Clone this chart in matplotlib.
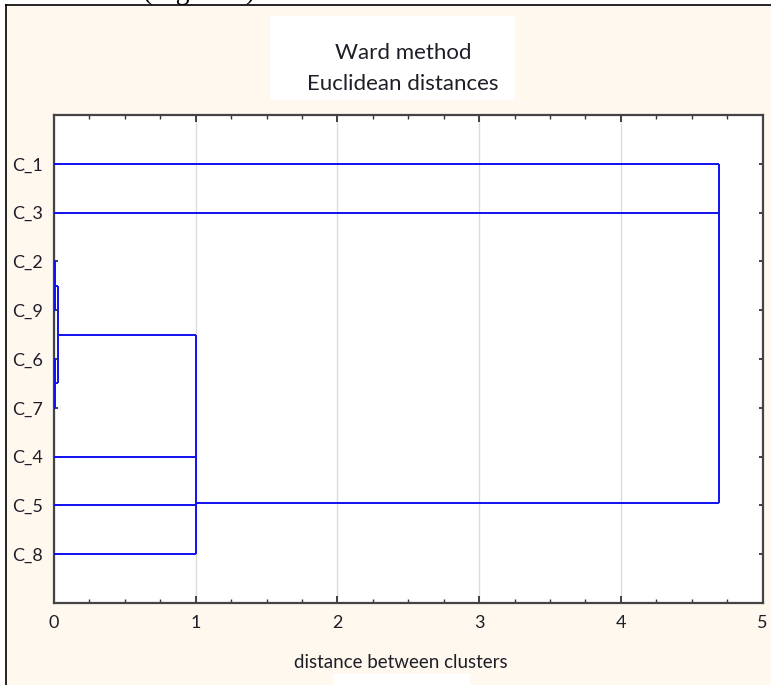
import matplotlib
matplotlib.use("Agg")
import matplotlib.pyplot as plt
from matplotlib.patches import Rectangle
from matplotlib.lines import Line2D
from matplotlib.ticker import MultipleLocator

# ---- data ----
leaf_labels = ['C_1', 'C_3', 'C_2', 'C_9', 'C_6', 'C_7', 'C_4', 'C_5', 'C_8']
# merges: node ids 0..8 are leaves, each merge creates a new node id 9, 10, ...
merge_members = [[2, 3], [4, 5], [9, 10], [11, 6, 7, 8], [0, 1, 12]]
merge_height = [0.010, 0.010, 0.025, 1.00, 4.69]
merge_anchor = [2.5, 4.5, 3.5, 6.95, 3.5]   # position (in leaf slots) where the cluster's line leaves
x_ticks = [0, 1, 2, 3, 4, 5]

title_lines = ['Ward method', 'Euclidean distances']
x_label = 'distance between clusters'

W, H = 771, 685
DPI = 100
fig = plt.figure(figsize=(W / DPI, H / DPI), dpi=DPI)
fig.patch.set_facecolor('white')

FONT = 'Lato'
cream = '#FEF8EE'

def fx(px):
    return px / W

def fy(py):
    return 1 - py / H

# cream panel with border
fig.patches.append(Rectangle((fx(6), 0), 1 - fx(6), fy(5), transform=fig.transFigure,
                             facecolor=cream, edgecolor='none', zorder=-2))
fig.lines.append(Line2D([fx(6), fx(6)], [0, fy(5)], transform=fig.transFigure, color='black',
                        lw=1.2, zorder=-1))
fig.lines.append(Line2D([fx(6), 1], [fy(5), fy(5)], transform=fig.transFigure, color='black',
                        lw=1.2, zorder=-1))
# white patches behind title and label
fig.patches.append(Rectangle((fx(270), fy(100)), fx(515) - fx(270), fy(16) - fy(100),
                             transform=fig.transFigure, facecolor='white', edgecolor='none', zorder=-1.5))
fig.patches.append(Rectangle((fx(333), 0), fx(470) - fx(333), fy(674) - 0,
                             transform=fig.transFigure, facecolor='white', edgecolor='none', zorder=-1.5))

# partially clipped document caption above the frame
fig.text(fx(143), fy(-1), '(Figure 1)', fontsize=20, family='Liberation Serif',
         ha='left', va='baseline', color='black')

left, right, top, bottom = 54, 762.5, 115, 603
ax = fig.add_axes([fx(left), fy(bottom), fx(right) - fx(left), fy(top) - fy(bottom)])
ax.set_facecolor('white')

# node positions and heights
n_leaves = len(leaf_labels)
node_y = {i: float(i) for i in range(n_leaves)}
node_h = {i: 0.0 for i in range(n_leaves)}
for k, (members, h, anc) in enumerate(zip(merge_members, merge_height, merge_anchor)):
    nid = n_leaves + k
    ys = [node_y[m] for m in members]
    for m in members:
        ax.plot([node_h[m], h], [node_y[m], node_y[m]], color='#1010F0', lw=1.4, zorder=3,
                solid_capstyle='butt')
    ax.plot([h, h], [min(ys), max(ys)], color='#1010F0', lw=1.4, zorder=3, solid_capstyle='butt')
    node_y[nid] = anc
    node_h[nid] = h

ax.set_xlim(x_ticks[0], x_ticks[-1])
ax.set_ylim(n_leaves, -1)
ax.set_xticks(x_ticks)
ax.xaxis.set_minor_locator(MultipleLocator(0.25))
ax.set_yticks(range(n_leaves))
ax.set_yticklabels(leaf_labels)
ax.grid(axis='x', which='major', color='#DCDCDC', lw=1.0, zorder=0)
ax.set_axisbelow(True)

ax.tick_params(axis='both', which='both', direction='in', top=True, right=True,
               color='#333333', labelcolor='#1E1E28', labelsize=13)
ax.tick_params(axis='x', which='major', length=5, width=1.3, pad=9)
ax.tick_params(axis='x', which='minor', length=3, width=1.0)
ax.tick_params(axis='y', which='major', length=3, width=1.3, pad=8)
for lab in ax.get_xticklabels() + ax.get_yticklabels():
    lab.set_family(FONT)

for s in ax.spines.values():
    s.set_color('#444444')
    s.set_linewidth(1.6)

fig.text(fx(403), fy(53), title_lines[0], ha='center', va='center', fontsize=16,
         family=FONT, color='#1E1E28')
fig.text(fx(403), fy(84), title_lines[1], ha='center', va='center', fontsize=16,
         family=FONT, color='#1E1E28')
fig.text(fx(401), fy(662), x_label, ha='center', va='center', fontsize=13.5,
         family=FONT, color='#1E1E28')

fig.savefig('out.png', dpi=DPI, facecolor=fig.get_facecolor())
